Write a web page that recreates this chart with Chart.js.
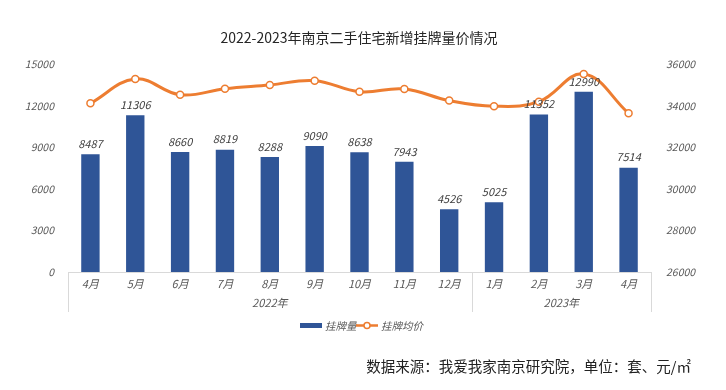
<!DOCTYPE html>
<html>
<head>
<meta charset="utf-8">
<script src="https://cdn.jsdelivr.net/npm/chart.js@4.4.0/dist/chart.umd.min.js"></script>
<style>
  html, body { margin: 0; padding: 0; background: #fff; }
  #wrap { width: 726px; height: 390px; position: relative; }
</style>
</head>
<body>
<div id="wrap"><canvas id="c" width="726" height="390"></canvas></div>
<script>
const months = ['4月', '5月', '6月', '7月', '8月', '9月', '10月', '11月', '12月', '1月', '2月', '3月', '4月'];
const listings = [8487, 11306, 8660, 8819, 8288, 9090, 8638, 7943, 4526, 5025, 11352, 12990, 7514];
const avgPrice = [34110, 35280, 34520, 34810, 34990, 35200, 34670, 34800, 34240, 33970, 34190, 35520, 33630];
const yearGroups = [
    { label: '2022年', from: 0, to: 8 },
    { label: '2023年', from: 9, to: 12 }
];

const FONT = '"Noto Sans CJK SC", "Noto Sans", sans-serif';
const BLUE = '#2F5597';
const ORANGE = '#ED7D31';
const GRAY = '#595959';

// 标签、分组、图例、标题等额外绘制
const extras = {
    id: 'extras',
    afterDatasetsDraw(chart) {
        const ctx = chart.ctx;
        const x = chart.scales.x;
        const area = chart.chartArea;
        ctx.save();

        // 柱子数值
        ctx.font = 'italic 11px ' + FONT;
        ctx.fillStyle = '#404040';
        ctx.textAlign = 'center';
        ctx.textBaseline = 'bottom';
        chart.getDatasetMeta(0).data.forEach((bar, i) => {
            ctx.fillText(String(listings[i]), bar.x, bar.y - 5);
        });

        // 年份分组
        const half = (x.getPixelForValue(1) - x.getPixelForValue(0)) / 2;
        ctx.strokeStyle = '#d9d9d9';
        ctx.lineWidth = 1;
        const bounds = [x.getPixelForValue(0) - half];
        yearGroups.forEach(g => bounds.push(x.getPixelForValue(g.to) + half));
        bounds.forEach(px => {
            ctx.beginPath();
            ctx.moveTo(Math.round(px) + 0.5, area.bottom);
            ctx.lineTo(Math.round(px) + 0.5, area.bottom + 40);
            ctx.stroke();
        });
        ctx.font = 'italic 11px ' + FONT;
        ctx.fillStyle = GRAY;
        ctx.textBaseline = 'middle';
        yearGroups.forEach(g => {
            const cx = (x.getPixelForValue(g.from) + x.getPixelForValue(g.to)) / 2;
            ctx.fillText(g.label, cx, area.bottom + 31);
        });

        // 标题
        ctx.font = '14px ' + FONT;
        ctx.fillStyle = '#262626';
        ctx.fillText('2022-2023年南京二手住宅新增挂牌量价情况', 359, 38);

        // 图例
        ctx.fillStyle = BLUE;
        ctx.fillRect(300, 323, 22, 5);
        ctx.font = 'italic 10.5px ' + FONT;
        ctx.fillStyle = GRAY;
        ctx.textAlign = 'left';
        ctx.fillText('挂牌量', 325, 326);
        ctx.strokeStyle = ORANGE;
        ctx.lineWidth = 2.5;
        ctx.beginPath();
        ctx.moveTo(356, 325.5);
        ctx.lineTo(378, 325.5);
        ctx.stroke();
        ctx.beginPath();
        ctx.arc(367, 325.5, 3, 0, Math.PI * 2);
        ctx.fillStyle = '#fff';
        ctx.fill();
        ctx.lineWidth = 1.5;
        ctx.stroke();
        ctx.fillStyle = GRAY;
        ctx.fillText('挂牌均价', 381, 326);

        // 数据来源
        ctx.font = '14.5px ' + FONT;
        ctx.fillStyle = '#222';
        ctx.textAlign = 'right';
        ctx.fillText('数据来源：我爱我家南京研究院，单位：套、元/㎡', 691, 366);

        ctx.restore();
    }
};

const plain = v => String(v);

new Chart(document.getElementById('c'), {
    data: {
        labels: months,
        datasets: [
            {
                type: 'bar',
                label: '挂牌量',
                data: listings,
                backgroundColor: BLUE,
                categoryPercentage: 1,
                barPercentage: 0.41,
                yAxisID: 'y',
                order: 1
            },
            {
                type: 'line',
                label: '挂牌均价',
                data: avgPrice,
                borderColor: ORANGE,
                borderWidth: 3,
                tension: 0.4,
                pointRadius: 3.5,
                pointBackgroundColor: '#fff',
                pointBorderColor: ORANGE,
                pointBorderWidth: 1.5,
                yAxisID: 'y1',
                order: 0
            }
        ]
    },
    options: {
        responsive: false,
        animation: false,
        layout: { padding: { top: 64, left: 0, right: 0, bottom: 0 } },
        plugins: {
            legend: { display: false },
            title: { display: false },
            tooltip: { enabled: false }
        },
        scales: {
            x: {
                offset: true,
                grid: { display: false, drawTicks: false },
                border: { display: true, color: '#d9d9d9' },
                ticks: { color: GRAY, font: { family: FONT, size: 11, style: 'italic' }, padding: 5 },
                afterFit(s) { s.height = 118; }
            },
            y: {
                position: 'left',
                min: 0,
                max: 15000,
                grid: { display: false },
                border: { display: false },
                ticks: { stepSize: 3000, color: GRAY, font: { family: FONT, size: 10.5, style: 'italic' }, padding: 6, callback: plain },
                afterFit(s) { s.width = 68; }
            },
            y1: {
                position: 'right',
                min: 26000,
                max: 36000,
                grid: { display: false },
                border: { display: false },
                ticks: { stepSize: 2000, color: GRAY, font: { family: FONT, size: 10.5, style: 'italic' }, padding: 7, callback: plain },
                afterFit(s) { s.width = 75; }
            }
        }
    },
    plugins: [extras]
});
</script>
</body>
</html>
